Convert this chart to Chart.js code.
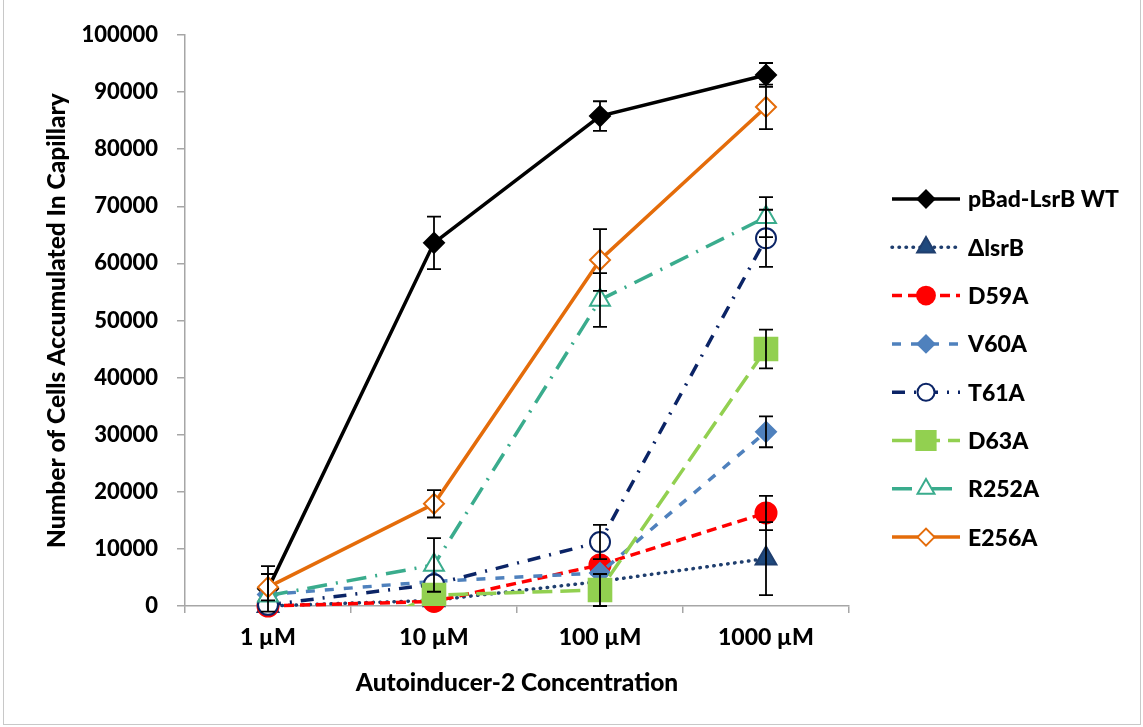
<!DOCTYPE html>
<html>
<head>
<meta charset="utf-8">
<script src="https://cdn.jsdelivr.net/npm/chart.js@4/dist/chart.umd.min.js"></script>
<style>
  html, body { margin: 0; padding: 0; background: #fff; }
  #wrap { width: 1143px; height: 727px; position: relative; }
</style>
</head>
<body>
<div id="wrap"><canvas id="c" width="1143" height="727"></canvas></div>
<script>
// Chemotaxis capillary assay: cells accumulated vs. AI-2 concentration
const categories = ['1 µM', '10 µM', '100 µM', '1000 µM'];

const seriesNames = ['pBad-LsrB WT', 'ΔlsrB', 'D59A', 'V60A', 'T61A', 'D63A', 'R252A', 'E256A'];

const wtValues    = [3000, 63600, 85800, 93000];
const wtErrors    = [4000, 4600, 2600, 2100];
const lsrBValues  = [0, 1000, 4300, 8300];
const lsrBErrors  = [0, 0, 0, 6400];
const d59aValues  = [0, 800, 7200, 16300];
const d59aErrors  = [0, 0, 0, 3000];
const v60aValues  = [2000, 4300, 5800, 30500];
const v60aErrors  = [0, 0, 0, 2700];
const t61aValues  = [200, 3800, 11200, 64400];
const t61aErrors  = [0, 0, 3000, 5000];
const d63aValues  = [-11000, 1900, 2800, 45000];
const d63aErrors  = [0, 0, 2800, 3400];
const r252aValues = [1800, 7200, 53600, 68100];
const r252aErrors = [0, 4700, 4700, 3500];
const e256aValues = [3300, 17900, 60600, 87400];
const e256aErrors = [2300, 2400, 5400, 3900];

const yTicks = [0, 10000, 20000, 30000, 40000, 50000, 60000, 70000, 80000, 90000, 100000];

const FONT = 'Lato, "Open Sans", sans-serif';
const WEIGHT = '900';

const values = [wtValues, lsrBValues, d59aValues, v60aValues, t61aValues, d63aValues, r252aValues, e256aValues];
const errors = [wtErrors, lsrBErrors, d59aErrors, v60aErrors, t61aErrors, d63aErrors, r252aErrors, e256aErrors];

const styles = [
  { color: '#000000', fill: '#000000', dash: [],             cap: 'butt',  point: 'rectRot',  r: 10 },
  { color: '#1F3E6E', fill: '#1F497D', dash: [0.5, 6.5],     cap: 'round', point: 'triangle', r: 12 },
  { color: '#FF0000', fill: '#FF0000', dash: [10, 6],        cap: 'butt',  point: 'circle',   r: 10.5 },
  { color: '#4F81BD', fill: '#4F81BD', dash: [9, 10],        cap: 'butt',  point: 'rectRot',  r: 10 },
  { color: '#0B2466', fill: '#FFFFFF', dash: [13, 9, 2, 9],  cap: 'butt',  point: 'circle',   r: 10 },
  { color: '#92D050', fill: '#92D050', dash: [20, 8],        cap: 'butt',  point: 'rect',     r: 16 },
  { color: '#3AAC8D', fill: '#FFFFFF', dash: [20, 9, 2, 9],  cap: 'butt',  point: 'triangle', r: 11.5 },
  { color: '#E46C0A', fill: '#FFFFFF', dash: [],             cap: 'butt',  point: 'rectRot',  r: 10 }
];

const datasets = seriesNames.map((name, i) => ({
  label: name,
  data: values[i],
  errors: errors[i],
  borderColor: styles[i].color,
  backgroundColor: styles[i].fill,
  borderWidth: 3.5,
  borderDash: styles[i].dash,
  borderCapStyle: styles[i].cap,
  pointStyle: styles[i].point,
  pointRadius: values[i].map(v => (v < 0 ? 0 : styles[i].r)),
  pointHoverRadius: styles[i].r,
  legendRadius: styles[i].r,
  pointBackgroundColor: styles[i].fill,
  pointBorderColor: styles[i].color,
  pointBorderWidth: 2,
  tension: 0,
  // marks may overhang the axis a little, but a line running below zero is cut at the axis
  clip: values[i].some(v => v < 0) ? { left: false, right: false, top: false, bottom: 0 } : false,
  order: seriesNames.length - 1 - i
}));

// Vertical error bars with caps, positioned through the chart scales
const errorBars = {
  id: 'errorBars',
  afterDatasetsDraw(chart) {
    const { ctx } = chart;
    const x = chart.scales.x, y = chart.scales.y;
    ctx.save();
    ctx.strokeStyle = '#000';
    ctx.lineWidth = 1.8;
    chart.data.datasets.forEach(ds => {
      ds.data.forEach((v, j) => {
        const e = ds.errors[j];
        if (!e) return;
        const px = x.getPixelForValue(j);
        const top = y.getPixelForValue(v + e);
        const bot = y.getPixelForValue(v - e);
        ctx.beginPath();
        ctx.moveTo(px, top); ctx.lineTo(px, bot);
        ctx.moveTo(px - 7, top); ctx.lineTo(px + 7, top);
        ctx.moveTo(px - 7, bot); ctx.lineTo(px + 7, bot);
        ctx.stroke();
      });
    });
    ctx.restore();
  }
};

// Legend on the right: line sample with its dash pattern and marker, then label
const sideLegend = {
  id: 'sideLegend',
  afterDraw(chart) {
    const { ctx } = chart;
    ctx.save();
    const x0 = 892, x1 = 960, xm = 926, ty = 199, step = 48.3;
    chart.data.datasets.forEach((ds, i) => {
      const yy = ty + i * step;
      ctx.save();
      ctx.strokeStyle = ds.borderColor;
      ctx.lineWidth = ds.borderWidth;
      ctx.lineCap = ds.borderCapStyle;
      ctx.setLineDash(ds.borderDash);
      ctx.beginPath();
      ctx.moveTo(x0, yy); ctx.lineTo(x1, yy);
      ctx.stroke();
      ctx.setLineDash([]);
      ctx.fillStyle = ds.pointBackgroundColor;
      ctx.strokeStyle = ds.pointBorderColor;
      ctx.lineWidth = ds.pointBorderWidth;
      Chart.helpers.drawPoint(ctx, { pointStyle: ds.pointStyle, radius: ds.legendRadius * 0.85, rotation: 0, borderWidth: ds.pointBorderWidth }, xm, yy);
      ctx.restore();
      ctx.fillStyle = '#000';
      ctx.font = WEIGHT + ' 23px ' + FONT;
      ctx.textBaseline = 'middle';
      ctx.textAlign = 'left';
      ctx.fillText(ds.label, 968, yy + 1);
    });
    // outer frame of the chart
    ctx.strokeStyle = '#C8C8C8';
    ctx.lineWidth = 1;
    ctx.strokeRect(3.5, -1, 1137, 725.5);
    ctx.restore();
  }
};

new Chart(document.getElementById('c'), {
  type: 'line',
  data: { labels: categories, datasets },
  plugins: [errorBars, sideLegend],
  options: {
    responsive: false,
    animation: false,
    events: [],
    layout: { padding: { top: 35, right: 294, bottom: 0, left: 0 } },
    plugins: { legend: { display: false }, tooltip: { enabled: false } },
    scales: {
      x: {
        type: 'category',
        offset: true,
        grid: { offset: true, drawOnChartArea: false, drawTicks: true, tickLength: 7, color: '#A6A6A6', lineWidth: 1.5 },
        border: { color: '#A6A6A6', width: 1.5 },
        ticks: { color: '#000', font: { family: FONT, size: 23, weight: WEIGHT }, padding: 11, maxRotation: 0 },
        title: { display: true, text: 'Autoinducer-2 Concentration', color: '#000', font: { family: FONT, size: 24.5, weight: WEIGHT }, padding: { top: 0, bottom: 29 } },
        afterFit(s) { s.height = 121; }
      },
      y: {
        min: 0, max: 100000,
        afterBuildTicks(s) { s.ticks = yTicks.map(v => ({ value: v })); },
        grid: { drawOnChartArea: false, drawTicks: true, tickLength: 8, color: '#A6A6A6', lineWidth: 1.5 },
        border: { color: '#A6A6A6', width: 1.5 },
        ticks: { color: '#000', font: { family: FONT, size: 22, weight: WEIGHT }, padding: 19, callback: v => String(v) },
        title: { display: true, text: 'Number of Cells Accumulated In Capillary', color: '#000', font: { family: FONT, size: 24.5, weight: WEIGHT }, padding: { top: 42, bottom: 0 } },
        afterFit(s) { s.width = 185; }
      }
    }
  }
});
</script>
</body>
</html>
